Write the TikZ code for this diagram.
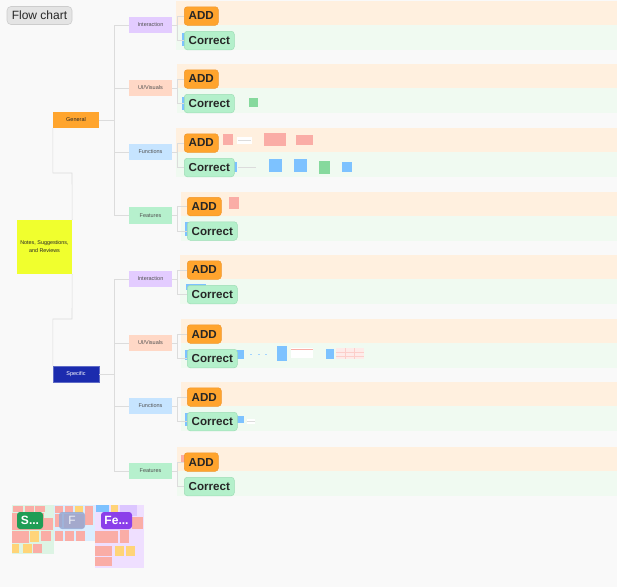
\documentclass[tikz,border=0pt]{standalone}
\usepackage{fontspec}
\setmainfont{Liberation Sans}
\definecolor{bgc}{HTML}{F9F9F9}
\definecolor{linegray}{HTML}{DCDCDC}
\definecolor{addband}{HTML}{FFF0DF}
\definecolor{corband}{HTML}{F0FAF1}
\definecolor{addfill}{HTML}{FFA42D}
\definecolor{adddraw}{HTML}{F0962A}
\definecolor{corfill}{HTML}{B4F0CB}
\definecolor{cordraw}{HTML}{9EDDB5}
\definecolor{lbltext}{HTML}{262626}
\definecolor{catpurple}{HTML}{E3CCFF}
\definecolor{catpeach}{HTML}{FFD8C6}
\definecolor{catblue}{HTML}{C6E4FF}
\definecolor{catgreen}{HTML}{B6F0CD}
\definecolor{rootyellow}{HTML}{F0FF2E}
\definecolor{genorange}{HTML}{FFA52E}
\definecolor{specblue}{HTML}{1B2BAE}
\definecolor{pinknote}{HTML}{FAADA6}
\definecolor{bluenote}{HTML}{7DC2FF}
\definecolor{greennote}{HTML}{86D99D}
\definecolor{yellownote}{HTML}{FFD478}
\definecolor{lavnote}{HTML}{DCC6FF}
\definecolor{thgreen}{HTML}{DDF4E4}
\definecolor{thblue}{HTML}{DAEEFF}
\definecolor{thpurple}{HTML}{EFDFFF}
\definecolor{sgreen}{HTML}{1F9D55}
\definecolor{fgray}{HTML}{95A9D3}
\definecolor{fepurple}{HTML}{8B3FEA}
\definecolor{titlefill}{HTML}{E4E4E4}
\definecolor{titledraw}{HTML}{CDCDCD}
\newcommand\flowgroup[6]{%
  \fill[addband] (#3,#2-24) rectangle (617,#2);
  \fill[corband] (#3,#2) rectangle (617,#2+25);
  \node[catbox, fill=#6] (cat#1) at (150.5,#2) {#5};
  \coordinate (br#1) at (177,#2);
}
\newcommand\flowlabels[3]{%
  \node[addlbl] (add#1) at (#3,#2-18.5) {ADD};
  \node[corlbl] (cor#1) at (#3,#2+6) {Correct};
  \draw[tline] (cat#1.east) -- (br#1);
  \draw[tline] (br#1) |- (add#1.west);
  \draw[tline] (br#1) |- (cor#1.west);
}
\begin{document}
\begin{tikzpicture}[x=1pt,y=-1pt,
  tline/.style={draw=linegray, line width=0.6pt},
  addlbl/.style={rectangle, rounded corners=3pt, fill=addfill, draw=adddraw, line width=0.5pt,
    minimum width=34pt, minimum height=18.5pt, inner sep=0pt, anchor=north west,
    font=\fontsize{11.6}{13}\selectfont\bfseries, text=lbltext},
  corlbl/.style={addlbl, fill=corfill, draw=cordraw, minimum width=50pt},
  catbox/.style={rectangle, minimum width=43pt, minimum height=16.5pt, inner sep=0pt,
    font=\fontsize{5.5}{6}\selectfont, text=lbltext!80},
  thlbl/.style={rectangle, rounded corners=3pt, minimum width=26pt, minimum height=17pt, inner sep=0pt,
    font=\fontsize{12}{13}\selectfont, text=white}]
\fill[bgc] (0,0) rectangle (617,587);
\useasboundingbox (0,0) rectangle (617,587);

% title
\node[rectangle, rounded corners=4pt, fill=titlefill, draw=titledraw, line width=0.6pt,
  minimum width=65pt, minimum height=18pt, inner sep=0pt, font=\fontsize{12}{13}\selectfont,
  text=lbltext] (title) at (39.5,15.5) {Flow chart};

% groups: bands and category boxes
\flowgroup{1}{25}{176}{184}{Interaction}{catpurple}
\flowgroup{2}{88}{177}{184}{UI/Visuals}{catpeach}
\flowgroup{3}{152}{176}{184}{Functions}{catblue}
\flowgroup{4}{215.5}{181}{187}{Features}{catgreen}
\flowgroup{5}{279}{180}{187}{Interaction}{catpurple}
\flowgroup{6}{343}{181}{187}{UI/Visuals}{catpeach}
\flowgroup{7}{406}{181}{187}{Functions}{catblue}
\flowgroup{8}{471}{177}{184}{Features}{catgreen}

% sticky notes in bands
\fill[greennote] (249,98) rectangle (258,107);
\fill[pinknote] (223,134) rectangle (233,145);
\fill[white] (237,137) rectangle (252,144);
\draw[linegray, line width=0.4pt] (238,140) -- (251,140);
\fill[pinknote] (264,133) rectangle (286,146);
\fill[pinknote] (296,135) rectangle (313,145);
\fill[bluenote] (232,162) rectangle (237,172);
\draw[linegray, line width=0.5pt] (238,167) -- (256,167);
\fill[bluenote] (269,159) rectangle (282,172);
\fill[bluenote] (294,159) rectangle (307,172);
\fill[greennote] (319,161) rectangle (330,174);
\fill[bluenote] (342,162) rectangle (352,172);
\fill[pinknote] (229,197) rectangle (239,209);
\fill[bluenote] (237,350) rectangle (244,359);
\fill[bluenote!70] (250,353.5) rectangle (251.5,355);
\fill[bluenote!70] (258,353.5) rectangle (259.5,355);
\fill[bluenote!70] (265,353.5) rectangle (266.5,355);
\fill[bluenote] (277,346) rectangle (287,361);
\fill[white] (291,348) rectangle (313,358);
\draw[pinknote, line width=0.4pt] (291,349.5) -- (313,349.5);
\fill[bluenote] (326,349) rectangle (334,359);
\fill[pinknote!25] (336,348) rectangle (364,359);
\draw[pinknote!60, line width=0.3pt] (336,352) -- (364,352) (336,356) -- (364,356) (345,348) -- (345,359) (354,348) -- (354,359);
\fill[bluenote] (237,416) rectangle (244,423);
\fill[white] (247,419) rectangle (255,424);
\draw[linegray, line width=0.4pt] (247,421) -- (255,421);
\fill[pinknote] (181,455) rectangle (186,462);
% slivers behind Correct labels
\fill[bluenote] (182,33) rectangle (186,46);
\fill[bluenote] (182,97) rectangle (186,110);
\fill[bluenote] (185,222) rectangle (189,236);
\fill[bluenote] (186,284) rectangle (206,290);
\fill[bluenote] (185,350) rectangle (189,360);
\fill[bluenote] (185,413) rectangle (189,426);

% labels and brackets
\flowlabels{1}{25}{184}
\flowlabels{2}{88}{184}
\flowlabels{3}{152}{184}
\flowlabels{4}{215.5}{187}
\flowlabels{5}{279}{187}
\flowlabels{6}{343}{187}
\flowlabels{7}{406}{187}
\flowlabels{8}{471}{184}

% tree
\node[rectangle, fill=rootyellow, minimum width=55pt, minimum height=54pt, inner sep=0pt,
  align=center, font=\fontsize{5.4}{8}\selectfont, text=lbltext] (root) at (44.5,247)
  {Notes, Suggestions,\\and Reviews};
\node[rectangle, fill=genorange, minimum width=46pt, minimum height=16pt, inner sep=0pt,
  font=\fontsize{5.5}{6}\selectfont, text=lbltext] (general) at (76,120) {General};
\node[rectangle, fill=specblue, draw=specblue!70!white, line width=0.4pt, minimum width=46pt, minimum height=16pt, inner sep=0pt,
  font=\fontsize{5.5}{6}\selectfont, text=white] (specific) at (76,374) {Specific};

\coordinate (j1) at (72,173);
\coordinate (j2) at (72,319);
\draw[tline] (root.north east) -- (j1) -| (general.south west);
\draw[tline] (root.south east) -- (j2) -| (specific.north west);

\coordinate (gtrunk) at (114,120);
\coordinate (strunk) at (114,374);
\draw[tline] (general.east) -- (gtrunk);
\draw[tline] (specific.east) -- (strunk);
\foreach \k in {1,2,3,4}{\draw[tline] (gtrunk) |- (cat\k.west);}
\foreach \k in {5,6,7,8}{\draw[tline] (strunk) |- (cat\k.west);}

% thumbnail
\fill[thgreen] (12,505) rectangle (54,554);
\fill[thblue] (54,505) rectangle (95,541);
\fill[thpurple] (95,505) rectangle (144,568);
\fill[pinknote] (13,506) rectangle (23,512);
\fill[pinknote] (25,506) rectangle (34,512);
\fill[pinknote] (35,506) rectangle (45,512);
\fill[pinknote] (12,513) rectangle (44,530);
\fill[pinknote] (44,518) rectangle (53,530);
\fill[pinknote] (12,531) rectangle (29,543);
\fill[yellownote] (30,531) rectangle (39,542);
\fill[pinknote] (41,531) rectangle (51,541);
\fill[yellownote] (12,544) rectangle (19,553);
\fill[yellownote] (23,544) rectangle (32,553);
\fill[pinknote] (33,544) rectangle (42,553);
\fill[pinknote] (55,506) rectangle (63,513);
\fill[pinknote] (65,506) rectangle (73,513);
\fill[yellownote] (75,506) rectangle (83,513);
\fill[pinknote] (85,506) rectangle (93,525);
\fill[pinknote] (55,514) rectangle (62,527);
\fill[pinknote] (64,514) rectangle (84,528);
\fill[pinknote] (55,531) rectangle (63,541);
\fill[pinknote] (65,531) rectangle (74,541);
\fill[pinknote] (76,531) rectangle (85,541);
\fill[bluenote] (96,505) rectangle (109,512);
\fill[yellownote] (111,505) rectangle (118,512);
\fill[lavnote] (120,505) rectangle (137,516);
\fill[pinknote] (132,517) rectangle (143,529);
\fill[pinknote] (95,531) rectangle (118,543);
\fill[pinknote] (120,530) rectangle (129,543);
\fill[pinknote] (95,546) rectangle (112,556);
\fill[yellownote] (115,546) rectangle (124,556);
\fill[yellownote] (126,546) rectangle (135,556);
\fill[pinknote] (95,557) rectangle (112,566);
\node[thlbl, fill=sgreen, font=\fontsize{12}{13}\selectfont\bfseries] (ths) at (30,520.5) {S...};
\node[thlbl, fill=fgray, fill opacity=0.85, text opacity=1, text=white!85!fgray] (thf) at (72,520.5) {F};
\node[thlbl, fill=fepurple, minimum width=31pt, font=\fontsize{12}{13}\selectfont\bfseries] (thfe) at (116.5,520.5) {Fe...};
\end{tikzpicture}
\end{document}
